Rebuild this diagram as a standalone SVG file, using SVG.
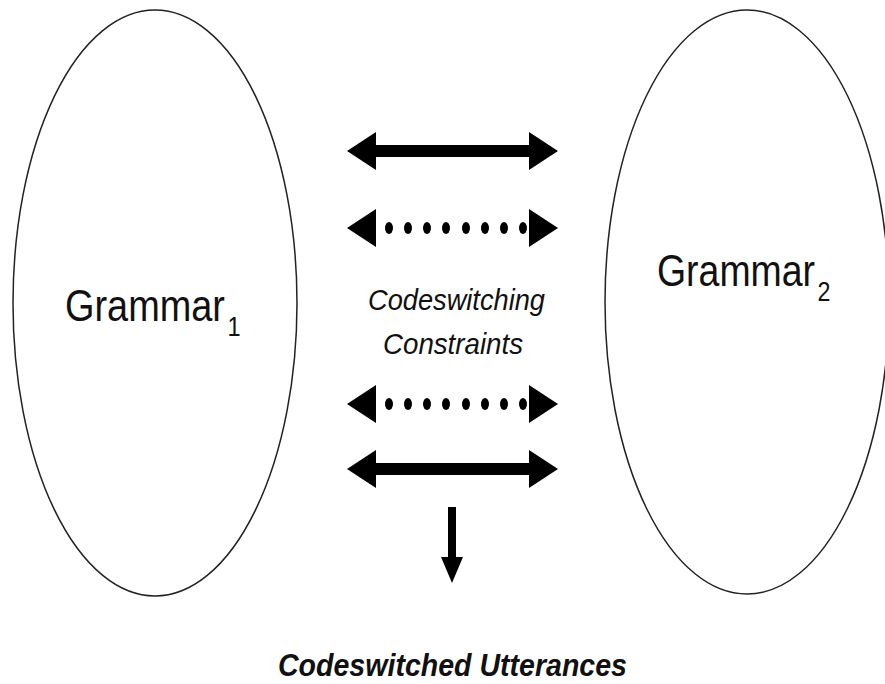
<svg xmlns="http://www.w3.org/2000/svg" width="885" height="684" viewBox="0 0 885 684">
<style>
.oval{fill:#fff;stroke:#222;stroke-width:1.5}
.lbl{font-family:"Liberation Sans",Arial,sans-serif;fill:#111}
.ah{fill:#000}
.dot{fill:#000}
</style>
<rect width="885" height="684" fill="#fff"/>
<g id="grammar1">
<ellipse class="oval" cx="155" cy="303" rx="142" ry="293"/>
<g transform="translate(65,321) scale(0.842,1)">
<text class="lbl" x="0" y="0" font-size="45">Grammar</text>
<text class="lbl" x="193" y="15" font-size="28">1</text>
</g>
</g>
<g id="grammar2">
<ellipse class="oval" cx="747" cy="302" rx="142" ry="292"/>
<g transform="translate(657,286) scale(0.832,1)">
<text class="lbl" x="0" y="0" font-size="45">Grammar</text>
<text class="lbl" x="193" y="15" font-size="28">2</text>
</g>
</g>
<g id="constraints">
<text class="lbl" x="368" y="310" font-size="30" font-style="italic" textLength="177" lengthAdjust="spacingAndGlyphs">Codeswitching</text>
<text class="lbl" x="383" y="354" font-size="30" font-style="italic" textLength="140" lengthAdjust="spacingAndGlyphs">Constraints</text>
</g>
<g id="utterances">
<text class="lbl" x="278" y="676" font-size="32" font-style="italic" font-weight="bold" textLength="349" lengthAdjust="spacingAndGlyphs">Codeswitched Utterances</text>
</g>
<g id="connectors">
<g id="arrow1">
<rect x="372" y="145" width="161" height="12"/>
<polygon class="ah" points="347,151 376,132 376,170"/>
<polygon class="ah" points="558,151 529,132 529,170"/>
</g>
<g id="arrow2">
<polygon class="ah" points="347,228 376,209 376,247"/>
<g class="dot"><ellipse cx="389" cy="228" rx="4" ry="6"/><ellipse cx="408" cy="228" rx="4" ry="6"/><ellipse cx="427" cy="228" rx="4" ry="6"/><ellipse cx="446" cy="228" rx="4" ry="6"/><ellipse cx="466" cy="228" rx="4" ry="6"/><ellipse cx="485" cy="228" rx="4" ry="6"/><ellipse cx="504" cy="228" rx="4" ry="6"/><ellipse cx="523" cy="228" rx="4" ry="6"/></g>
<polygon class="ah" points="558,228 529,209 529,247"/>
</g>
<g id="arrow3">
<polygon class="ah" points="347,404 376,385 376,423"/>
<g class="dot"><ellipse cx="389" cy="404" rx="4" ry="6"/><ellipse cx="408" cy="404" rx="4" ry="6"/><ellipse cx="427" cy="404" rx="4" ry="6"/><ellipse cx="446" cy="404" rx="4" ry="6"/><ellipse cx="466" cy="404" rx="4" ry="6"/><ellipse cx="485" cy="404" rx="4" ry="6"/><ellipse cx="504" cy="404" rx="4" ry="6"/><ellipse cx="523" cy="404" rx="4" ry="6"/></g>
<polygon class="ah" points="558,404 529,385 529,423"/>
</g>
<g id="arrow4">
<rect x="372" y="463" width="161" height="12"/>
<polygon class="ah" points="347,469 376,450 376,488"/>
<polygon class="ah" points="558,469 529,450 529,488"/>
</g>
<g id="arrowDown">
<rect x="448" y="507" width="8" height="52"/>
<polygon class="ah" points="441,557 463,557 452,583"/>
</g>
</g>
</svg>
